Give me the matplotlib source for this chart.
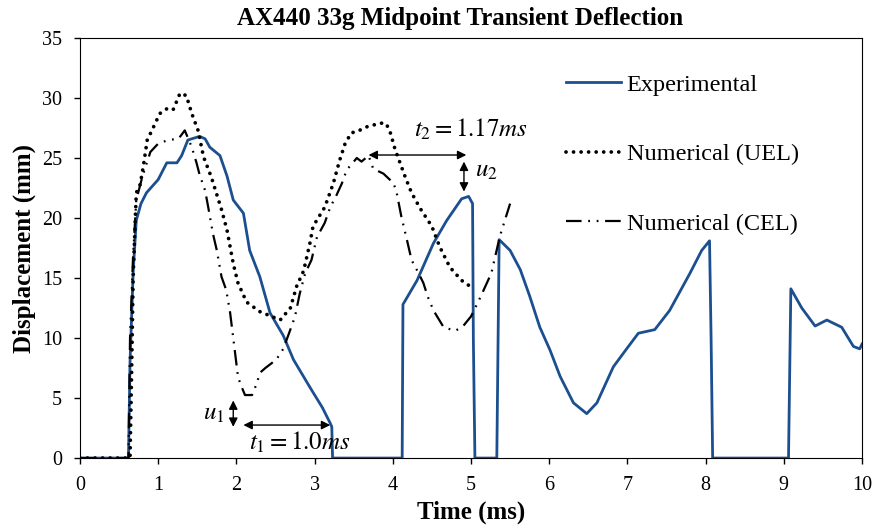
import matplotlib
matplotlib.use("Agg")
import matplotlib.pyplot as plt

plt.rcParams['font.family'] = ['Liberation Serif', 'DejaVu Serif']
plt.rcParams['mathtext.fontset'] = 'stix'

# Experimental (mm vs ms)
exp_t = [0, 0.62, 0.64, 0.68, 0.72, 0.78, 0.85, 1.0, 1.11, 1.24, 1.30, 1.38, 1.53, 1.60,
         1.66, 1.79, 1.88, 1.96, 2.09, 2.17, 2.30, 2.43, 2.60, 2.73, 2.94, 3.10, 3.20,
         3.22, 3.23, 4.12, 4.13, 4.31, 4.52, 4.69, 4.88, 4.97, 5.02, 5.03, 5.05, 5.33,
         5.36, 5.50, 5.63, 5.75, 5.88, 6.01, 6.14, 6.31, 6.48, 6.61, 6.82, 6.99, 7.14,
         7.35, 7.54, 7.80, 7.95, 8.05, 8.07, 8.09, 9.06, 9.09, 9.23, 9.40, 9.55, 9.74,
         9.89, 9.97, 10.0]
exp_y = [0, 0, 8.0, 15.5, 19.8, 21.2, 22.1, 23.2, 24.6, 24.6, 25.2, 26.5, 26.8, 26.6,
         25.9, 25.2, 23.5, 21.5, 20.4, 17.3, 15.1, 12.1, 10.2, 8.2, 5.9, 4.2, 2.9,
         2.6, 0, 0, 12.8, 14.8, 17.9, 19.8, 21.6, 21.8, 21.2, 10.0, 0, 0,
         18.2, 17.3, 15.7, 13.5, 10.9, 9.0, 6.8, 4.6, 3.7, 4.6, 7.6, 9.1, 10.4,
         10.7, 12.3, 15.4, 17.3, 18.1, 10.0, 0, 0, 14.1, 12.5, 11.0, 11.5, 10.9,
         9.3, 9.1, 9.5]

# Numerical (UEL)
uel_t = [0, 0.64, 0.66, 0.68, 0.72, 0.77, 0.81, 0.86, 0.92, 1.02, 1.11, 1.19, 1.28, 1.36,
         1.43, 1.51, 1.58, 1.68, 1.81, 1.88, 1.96, 2.02, 2.13, 2.30, 2.45, 2.56, 2.69,
         2.77, 2.86, 2.94, 2.98, 3.13, 3.24, 3.32, 3.39, 3.47, 3.54, 3.67, 3.84, 3.91,
         3.96, 4.03, 4.16, 4.24, 4.35, 4.50, 4.60, 4.73, 4.88, 4.99]
uel_y = [0, 0, 7.0, 15.1, 22.1, 22.8, 24.3, 26.5, 27.3, 28.7, 29.1, 29.0, 30.4, 30.2,
         28.7, 27.3, 25.1, 23.4, 20.7, 19.0, 16.2, 14.6, 13.0, 12.2, 11.8, 11.5, 12.5,
         14.3, 15.6, 17.9, 19.3, 20.9, 22.9, 24.8, 26.2, 27.1, 27.2, 27.6, 27.9, 27.9,
         27.3, 25.7, 23.4, 22.1, 20.8, 19.3, 17.6, 15.9, 14.8, 14.3]

# Numerical (CEL)
cel_t = [0, 0.62, 0.64, 0.68, 0.72, 0.80, 0.90, 1.0, 1.13, 1.26, 1.34, 1.43, 1.49, 1.53,
         1.60, 1.64, 1.70, 1.75, 1.81, 1.87, 1.92, 1.96, 2.02, 2.05, 2.11, 2.20, 2.26,
         2.30, 2.37, 2.51, 2.60, 2.69, 2.75, 2.81, 2.88, 2.96, 3.03, 3.13, 3.20, 3.28,
         3.35, 3.41, 3.54, 3.60, 3.69, 3.75, 3.88, 4.01, 4.05, 4.11, 4.18, 4.24, 4.33,
         4.39, 4.45, 4.52, 4.65, 4.80, 4.90, 5.00, 5.12, 5.26, 5.37, 5.50]
cel_y = [0, 0, 10.0, 17.0, 21.5, 23.5, 25.5, 26.2, 26.5, 26.6, 27.3, 25.9, 24.6, 23.6,
         22.3, 20.9, 18.7, 17.3, 15.1, 14.0, 12.1, 10.0, 6.8, 6.2, 5.25, 5.25, 6.2,
         7.1, 7.5, 8.2, 9.1, 10.7, 11.8, 13.7, 15.4, 16.5, 18.4, 19.6, 20.9, 21.9,
         22.9, 24.0, 25.0, 24.7, 25.2, 24.1, 23.7, 22.9, 22.1, 20.1, 18.2, 16.5, 15.4,
         14.6, 13.4, 12.3, 10.9, 10.6, 11.0, 11.8, 13.4, 15.4, 18.5, 21.2]

BLUE = '#1B4F8F'


def main():
    fig = plt.figure(figsize=(8.74, 5.32), dpi=100)
    ax = fig.add_axes([0.0915, 0.139, 0.8948, 0.7896])

    ax.plot(exp_t, exp_y, color=BLUE, lw=2.0, label='Experimental')
    ax.plot(uel_t, uel_y, color='black', lw=2.7, linestyle=(0, (0.01, 2.0)),
            dash_capstyle='round', label='Numerical (UEL)')
    ax.plot(cel_t, cel_y, color='black', lw=1.6, linestyle=(0, (7, 3, 0.8, 3, 0.8, 3)),
            label='Numerical (CEL)')

    ax.set_xlim(0, 10)
    ax.set_ylim(0, 35)
    ax.set_xticks(range(0, 11))
    ax.set_yticks(range(0, 36, 5))
    ax.tick_params(labelsize=14.5, length=4.5, width=1.0, pad=8.5, direction='out')
    ax.set_xlabel('Time (ms)', fontsize=18, fontweight='bold', labelpad=4)
    ax.set_ylabel('Displacement (mm)', fontsize=18, fontweight='bold', labelpad=4)
    ax.set_title('AX440 33g Midpoint Transient Deflection', fontsize=18,
                 fontweight='bold', pad=9, x=0.486)

    # annotations
    arr = dict(arrowstyle='<|-|>', color='black', lw=1.0, mutation_scale=13,
               shrinkA=0, shrinkB=0)
    ax.annotate('', xy=(1.96, 4.8), xytext=(1.96, 2.6), arrowprops=arr)
    ax.text(1.85, 3.7, '$u_1$', fontsize=18, ha='right', va='center')
    ax.annotate('', xy=(2.09, 2.75), xytext=(3.20, 2.75), arrowprops=arr)
    ax.text(2.81, 1.3, '$t_1 = 1.0ms$', fontsize=18, ha='center', va='center')
    ax.annotate('', xy=(3.69, 25.25), xytext=(4.94, 25.25), arrowprops=arr)
    ax.text(5.0, 27.4, '$t_2 = 1.17ms$', fontsize=18, ha='center', va='center')
    ax.annotate('', xy=(4.91, 24.7), xytext=(4.91, 22.2), arrowprops=arr)
    ax.text(5.05, 23.9, '$u_2$', fontsize=18, ha='left', va='center')

    ax.legend(loc='upper left', bbox_to_anchor=(0.609, 0.938), frameon=False,
              fontsize=17.5, handlelength=2.25, handletextpad=0.25, labelspacing=1.95,
              borderaxespad=0)

    fig.savefig('out.png', dpi=100)


if __name__ == '__main__':
    main()
